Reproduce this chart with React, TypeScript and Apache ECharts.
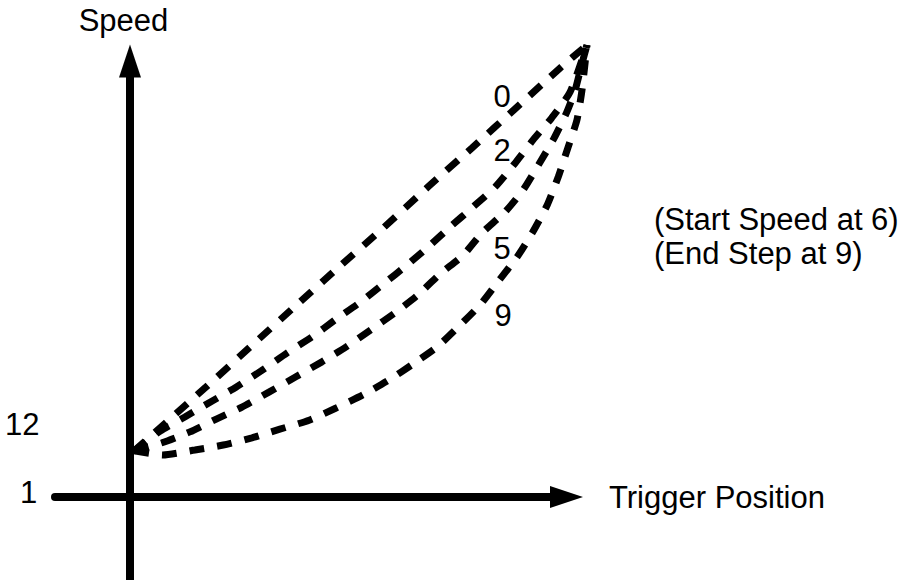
import { useEffect, useRef } from "react";
import * as echarts from "echarts";

// ---- data (Trigger Position 0..100, Speed 0..100 in schematic units) ----
const curveNames = ["0", "2", "5", "9"];
const curve0: number[][] = [[0.9, 10.2], [16.6, 24.3], [26.3, 33.2], [35.9, 42.0], [45.5, 50.7], [55.4, 59.5], [65.2, 68.6], [74.8, 77.2], [84.5, 86.1], [94.1, 94.9], [100, 100]];
const curve2: number[][] = [[0.9, 10.2], [6.6, 14.6], [12.0, 17.7], [17.9, 21.2], [23.2, 24.3], [28.7, 27.9], [34.4, 31.9], [39.8, 35.4], [44.9, 39.2], [50.1, 42.9], [55.4, 47.1], [60.6, 51.3], [65.2, 55.3], [70.0, 59.7], [75.1, 64.2], [79.9, 68.6], [84.3, 73.9], [88.2, 79.0], [92.3, 83.9], [96.3, 89.6], [100, 100]];
const curve5: number[][] = [[0.9, 10.2], [7.0, 12.0], [13.1, 14.4], [19.0, 17.3], [24.5, 19.9], [30.4, 23.2], [36.3, 26.6], [42.0, 29.9], [47.3, 33.2], [52.7, 37.0], [58.2, 40.9], [63.0, 44.7], [67.8, 49.3], [72.9, 53.5], [77.0, 58.4], [82.1, 63.1], [86.0, 67.9], [89.4, 73.5], [92.8, 79.4], [95.6, 85.2], [97.4, 90.0], [98.8, 95.5], [100, 100]];
const curve9: number[][] = [[0.9, 10.2], [7.2, 9.3], [14.2, 10.4], [20.4, 11.5], [26.7, 13.1], [32.8, 15.0], [39.2, 17.0], [45.1, 19.7], [51.0, 22.6], [56.7, 25.9], [61.9, 29.4], [67.2, 33.2], [71.8, 37.6], [76.6, 42.5], [80.5, 47.6], [84.7, 53.1], [88.0, 58.4], [91.3, 64.6], [93.7, 70.8], [95.8, 77.2], [97.8, 83.4], [98.9, 90.0], [100, 100]];
const curves = [curve0, curve2, curve5, curve9];

const speedTickLabels = ["12", "1"];
const notes = ["(Start Speed at 6)", "(End Step at 9)"];
const xAxisName = "Trigger Position";
const yAxisName = "Speed";

// ---- layout: pixel geometry of the drawing ----
const W = 916;
const H = 580;
const ORIGIN_X = 130; // pixel of Trigger Position = 0
const ORIGIN_Y = 497; // pixel of Speed = 0
const PX_X = 4.57; // pixels per Trigger Position unit
const PX_Y = 4.52; // pixels per Speed unit
const AXIS_LEFT = 55;
const AXIS_END_X = 566.5; // centre of the x arrow head
const AXIS_END_Y = 61; // centre of the y arrow head
const PLOT_RIGHT = 610; // curves drawing area (beyond arrow heads)
const PLOT_TOP = 25;

const FONT = "'Liberation Sans', Arial, Helvetica, sans-serif";
const FS = 31;

export default function App() {
  const ref = useRef<HTMLDivElement>(null);

  useEffect(() => {
    if (!ref.current) return;
    const chart = echarts.init(ref.current, undefined, { renderer: "svg" });

    const xFromPx = (px: number) => (px - ORIGIN_X) / PX_X;
    const yFromPx = (py: number) => (ORIGIN_Y - py) / PX_Y;

    const textStyle = (extra: any) => ({
      fill: "#000",
      font: `${FS}px ${FONT}`,
      fontSize: FS,
      fontFamily: FONT,
      ...extra,
    });

    const curveLabelPos = [
      [502, 96],
      [502, 150],
      [502, 248],
      [503, 315],
    ];
    const tickLabelPos = [
      [5, 424],
      [20, 492],
    ];

    const graphic: any[] = [
      {
        type: "text",
        x: 123.5,
        y: 20.5,
        style: textStyle({ text: yAxisName, align: "center", verticalAlign: "middle" }),
      },
      {
        type: "text",
        x: 609,
        y: 497,
        style: textStyle({ text: xAxisName, align: "left", verticalAlign: "middle" }),
      },
      ...notes.map((t, i) => ({
        type: "text",
        x: 654,
        y: 219 + i * 34.5,
        style: textStyle({ text: t, align: "left", verticalAlign: "middle" }),
      })),
      ...speedTickLabels.map((t, i) => ({
        type: "text",
        x: tickLabelPos[i][0],
        y: tickLabelPos[i][1],
        style: textStyle({ text: t, align: "left", verticalAlign: "middle" }),
      })),
      ...curveNames.map((t, i) => ({
        type: "text",
        x: curveLabelPos[i][0],
        y: curveLabelPos[i][1],
        style: textStyle({ text: t, align: "center", verticalAlign: "middle" }),
      })),
    ];

    const hidden = {
      axisLine: { show: false },
      axisTick: { show: false },
      axisLabel: { show: false },
      splitLine: { show: false },
    };

    const arrowAxis = {
      type: "value" as const,
      axisLine: {
        show: true,
        onZero: true,
        symbol: ["none", "triangle"],
        symbolSize: [22, 33],
        lineStyle: { color: "#000", width: 8 },
      },
      axisTick: { show: false },
      axisLabel: { show: false },
      splitLine: { show: false },
    };

    chart.setOption({
      animation: false,
      grid: [
        // axes with arrow heads
        { left: AXIS_LEFT, right: W - AXIS_END_X, top: AXIS_END_Y, bottom: 0, containLabel: false },
        // same scale, larger area for the curves
        { left: AXIS_LEFT, right: W - PLOT_RIGHT, top: PLOT_TOP, bottom: 0, containLabel: false },
      ],
      xAxis: [
        { ...arrowAxis, gridIndex: 0, min: xFromPx(AXIS_LEFT), max: xFromPx(AXIS_END_X) },
        { type: "value", gridIndex: 1, min: xFromPx(AXIS_LEFT), max: xFromPx(PLOT_RIGHT), ...hidden },
      ],
      yAxis: [
        { ...arrowAxis, gridIndex: 0, min: yFromPx(H), max: yFromPx(AXIS_END_Y) },
        { type: "value", gridIndex: 1, min: yFromPx(H), max: yFromPx(PLOT_TOP), ...hidden },
      ],
      graphic,
      series: curves.map((data, i) => ({
        name: curveNames[i],
        type: "line",
        xAxisIndex: 1,
        yAxisIndex: 1,
        data,
        symbol: "none",
        showSymbol: false,
        smooth: 0.2,
        z: 3,
        lineStyle: { color: "#000", width: 7, type: [15, 13], cap: "butt" },
      })),
    });

    return () => chart.dispose();
  }, []);

  return (
    <div
      ref={ref}
      style={{ position: "fixed", left: 0, top: 0, width: W, height: H, background: "#fff" }}
    />
  );
}
